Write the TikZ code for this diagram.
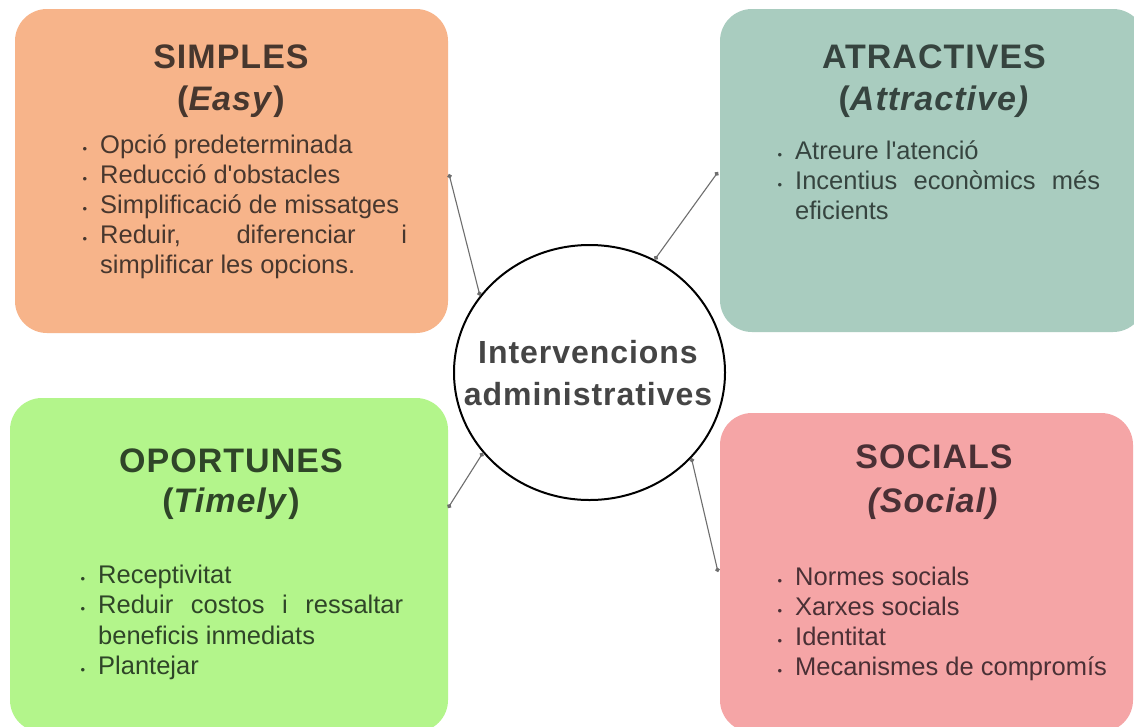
\documentclass[tikz,border=0pt]{standalone}
\usepackage{fontspec}
\setmainfont{Liberation Sans}
\newfontfamily\headfont[LetterSpace=3]{Liberation Sans}
\usetikzlibrary{shapes.geometric,arrows.meta}

\definecolor{easyfill}{HTML}{F7B48A}
\definecolor{attrfill}{HTML}{A9CCBF}
\definecolor{timefill}{HTML}{B3F58B}
\definecolor{socfill}{HTML}{F5A5A6}
\definecolor{easyink}{HTML}{47372E}
\definecolor{attrink}{HTML}{36443F}
\definecolor{timeink}{HTML}{2F4528}
\definecolor{socink}{HTML}{4A3035}
\definecolor{hubink}{HTML}{454545}
\definecolor{linkgray}{HTML}{6E6E6E}

% small bullet dot hanging left of the text column
\newcommand\blt{\llap{{\fontsize{13}{13}\selectfont\textbullet}\hspace{13pt}}}
% every further item starts a new paragraph
\newcommand\itm{\par\noindent\blt}

\tikzset{
  panel/.style={rounded corners=32pt, draw=none, inner sep=0pt},
  head/.style={anchor=base, inner sep=0pt,
    font=\headfont\bfseries\fontsize{34}{38}\selectfont},
  items/.style={anchor=base west, inner sep=0pt, text width=#1, align=justify,
    font=\fontsize{25.5}{30}\selectfont},
  conn/.style={draw=linkgray, line width=1.1pt,
    {Circle[length=4.5pt]}-{Circle[length=4.5pt]}},
}

\begin{document}
\begin{tikzpicture}[x=1pt,y=-1pt]
\useasboundingbox (0,0) rectangle (1134,726);
\clip (0,0) rectangle (1134,726);
\fill[white] (0,0) rectangle (1134,726);

% four panels
\node[panel, fill=easyfill, minimum width=433pt, minimum height=324pt] (easy) at (231.5,171) {};
\node[panel, fill=attrfill, minimum width=425pt, minimum height=323pt] (attr) at (932.5,170.5) {};
\node[panel, fill=timefill, minimum width=438pt, minimum height=334pt] (time) at (229,565) {};
\node[panel, fill=socfill, minimum width=413pt, minimum height=319pt] (soc) at (926.5,572.5) {};

% SIMPLES
\node[head, text=easyink] (easyT) at (231,68) {SIMPLES};
\node[head, text=easyink] (easyS) at (231,110) {(\textit{Easy})};
\node[items=307pt, text=easyink] (easyL) at (100,153) {%
\blt Opció predeterminada
\itm Reducció d\textquotesingle obstacles
\itm Simplificació de missatges
\itm Reduir, diferenciar i\linebreak simplificar les opcions.};

% ATRACTIVES
\node[head, text=attrink] (attrT) at (934,68) {ATRACTIVES};
\node[head, text=attrink] (attrS) at (934,110) {(\textit{Attractive)}};
\node[items=305pt, text=attrink] (attrL) at (795,159) {%
\blt Atreure l\textquotesingle atenció
\itm Incentius econòmics més\linebreak eficients};

% OPORTUNES
\node[head, text=timeink] (timeT) at (231,472) {OPORTUNES};
\node[head, text=timeink] (timeS) at (231,512) {(\textit{Timely})};
\node[items=305pt, text=timeink, font=\fontsize{25.5}{30.5}\selectfont] (timeL) at (98,583) {%
\blt Receptivitat
\itm Reduir costos i ressaltar\linebreak beneficis inmediats
\itm Plantejar};

% SOCIALS
\node[head, text=socink] (socT) at (934,468) {SOCIALS};
\node[head, text=socink] (socS) at (933,512) {\textit{(Social)}};
\node[items=318pt, text=socink] (socL) at (795,585) {%
\blt Normes socials
\itm Xarxes socials
\itm Identitat
\itm Mecanismes de compromís};

% central hub
\node[ellipse, draw=black, line width=2pt, inner sep=0pt,
      minimum width=271pt, minimum height=255pt] (hub) at (589.5,372.5) {};
\node[anchor=base, inner sep=0pt, text width=270pt, align=center, text=hubink,
      font=\headfont\bfseries\fontsize{32}{42}\selectfont] (hubtext) at (588,363)
      {Intervencions\\administratives};

% connectors
\coordinate (easyport) at (449,174);
\coordinate (attrport) at (718,172);
\coordinate (timeport) at (448,508);
\coordinate (socport) at (718,572);
\draw[conn] (easyport) -- (hub.145);
\draw[conn] (attrport) -- (hub.60);
\draw[conn] (timeport) -- (hub.217);
\draw[conn] (socport) -- (hub.320);
\end{tikzpicture}
\end{document}
